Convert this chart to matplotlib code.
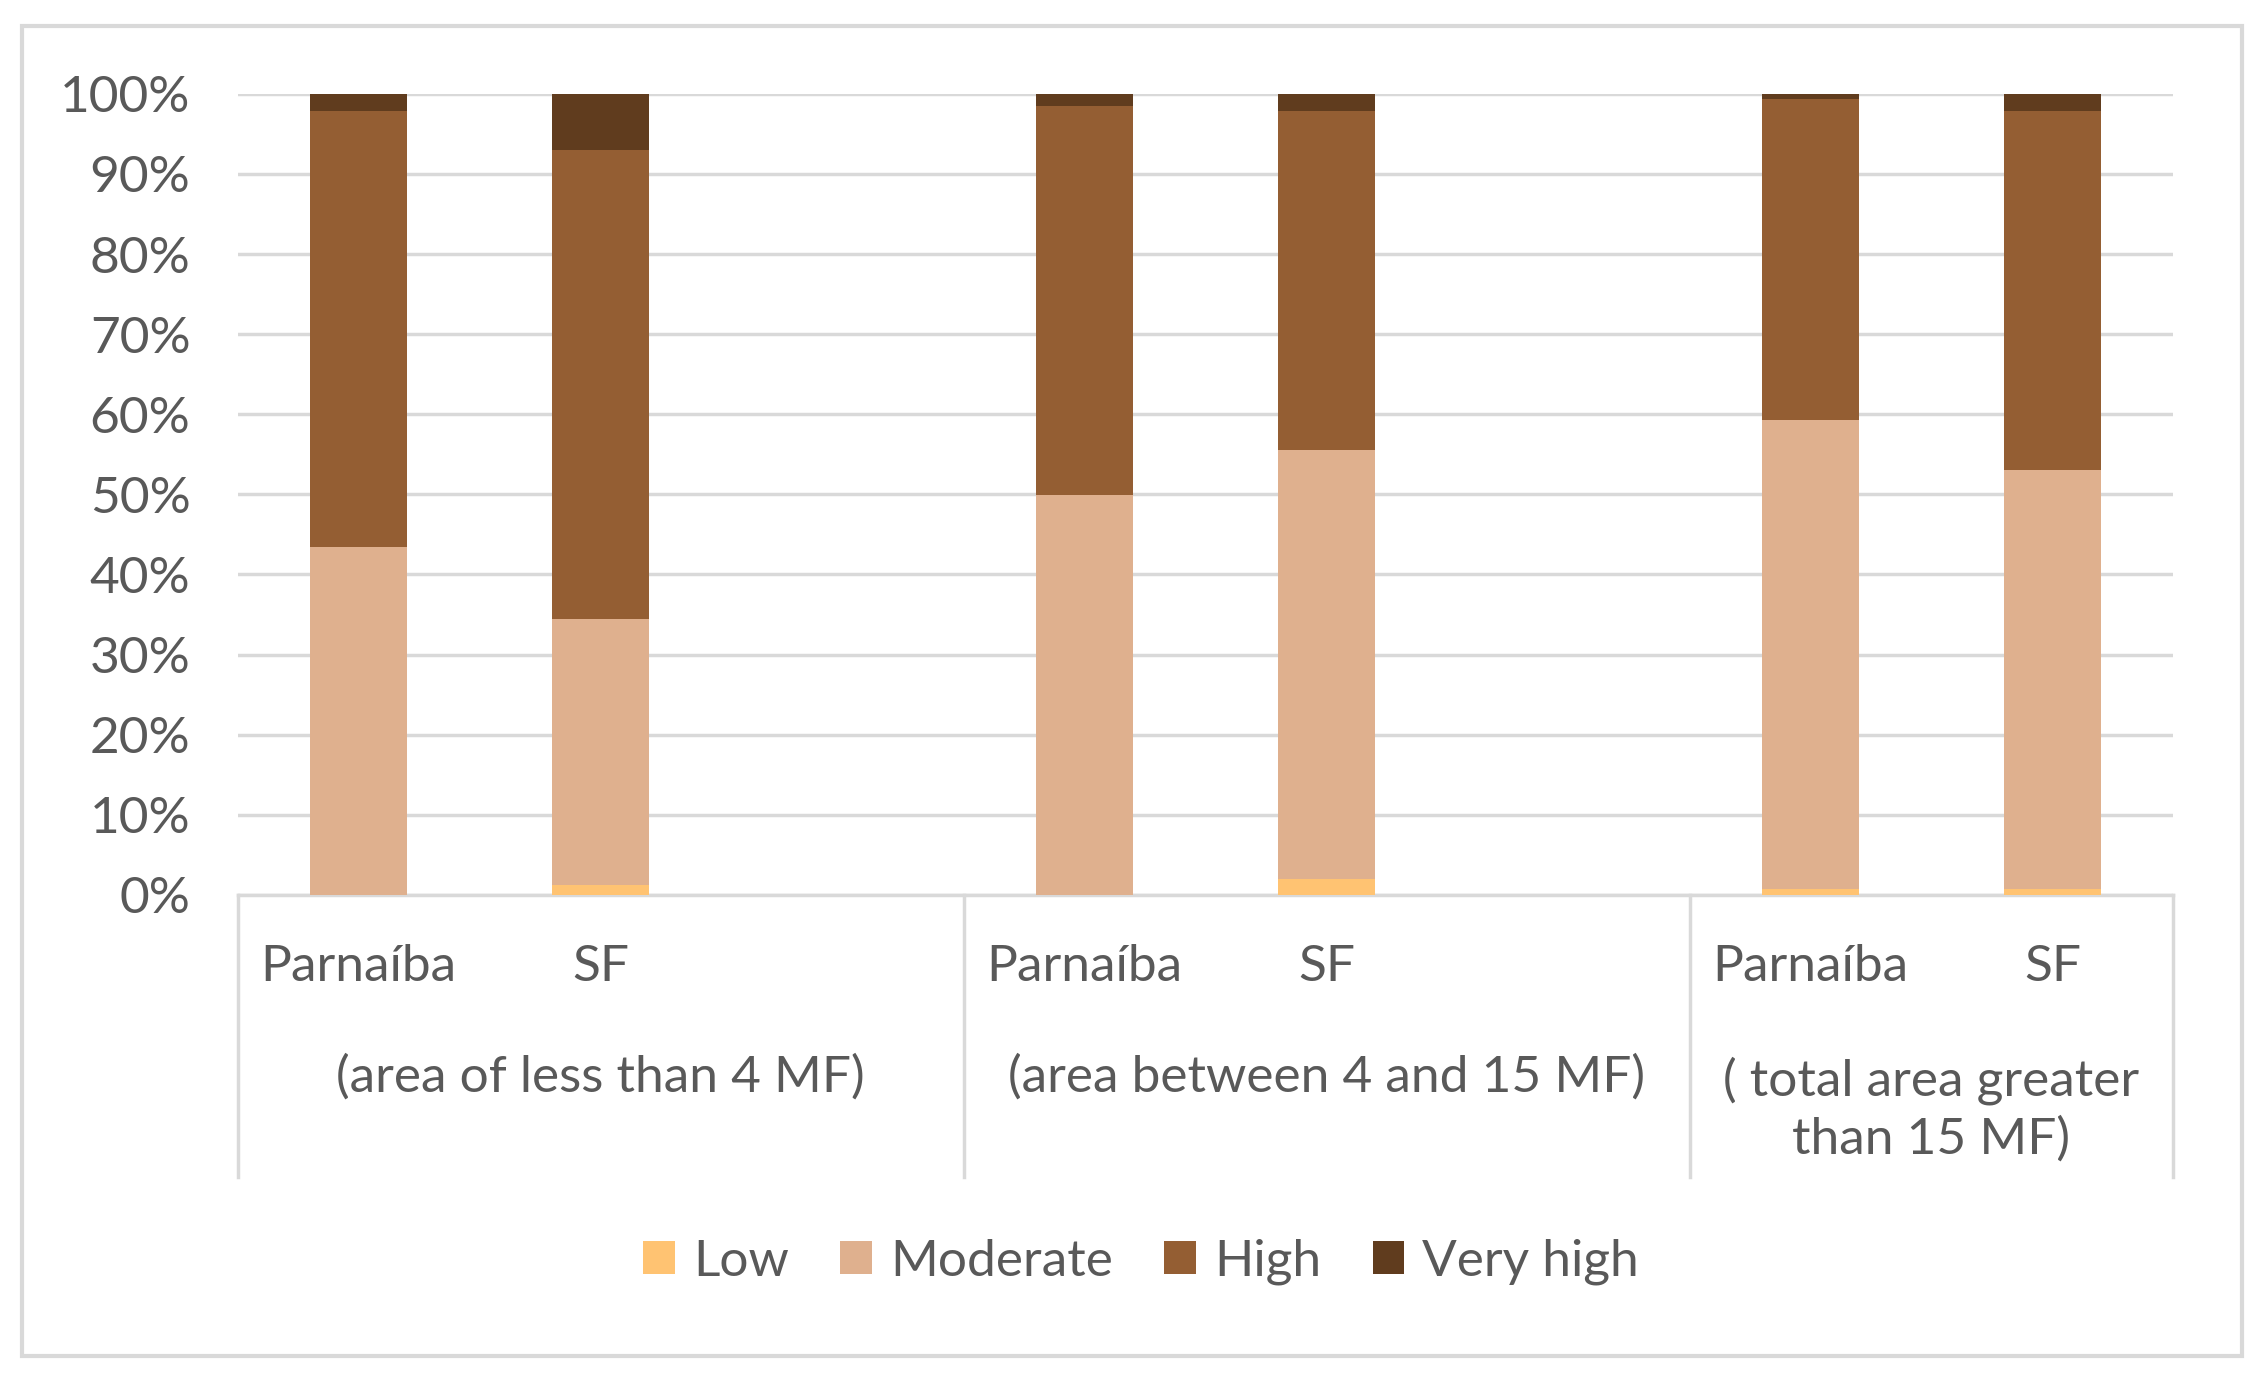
import matplotlib.pyplot as plt
from matplotlib.patches import Rectangle
from matplotlib.ticker import FuncFormatter
import numpy as np

# values (percent of each bar)
sub_labels = ["Parnaíba", "SF"]
group_labels = ["(area of less than 4 MF)", "(area between 4 and 15 MF)",
                "( total area greater\nthan 15 MF)"]
levels = ["Low", "Moderate", "High", "Very high"]

low = [0.0, 1.3, 0.0, 2.0, 0.8, 0.8]
moderate = [43.4, 33.1, 49.9, 53.5, 58.5, 52.2]
high = [54.4, 58.6, 48.6, 42.3, 40.1, 44.8]
very_high = [2.2, 7.0, 1.5, 2.2, 0.6, 2.2]

colors = ["#FFC372", "#DFB08E", "#945E33", "#603C1E"]
text_col = "#595959"
grid_col = "#D9D9D9"
fs = 37

plt.rcParams['font.family'] = ['Lato', 'DejaVu Sans']

fig = plt.figure(figsize=(22.64, 13.79), dpi=100)
ax = fig.add_axes([0.105, 0.351, 0.855, 0.581])

# 8 slots: P, SF, (gap), P, SF, (gap), P, SF
pos = np.array([0, 1, 3, 4, 6, 7])
series = [low, moderate, high, very_high]
bottom = np.zeros(len(pos))
for name, vals, c in zip(levels, series, colors):
    vals = np.array(vals)
    ax.bar(pos, vals, width=0.4, bottom=bottom, color=c, label=name, zorder=3)
    bottom += vals

ax.set_xlim(-0.5, 7.5)
ax.set_ylim(0, 100)
ax.set_yticks(np.arange(0, 101, 10))
ax.yaxis.set_major_formatter(FuncFormatter(lambda v, p: f"{int(v)}%"))
ax.tick_params(axis='y', length=0, pad=34, labelsize=fs, labelcolor=text_col)
ax.set_xticks([])
ax.grid(axis='y', color=grid_col, linewidth=2.5, zorder=0)
for s in ["left", "right", "top"]:
    ax.spines[s].set_visible(False)
ax.spines["bottom"].set_color(grid_col)
ax.spines["bottom"].set_linewidth(2.5)

# two-level category axis
trans = ax.get_xaxis_transform()
for i, p in enumerate(pos):
    ax.text(p, -0.09, sub_labels[i % 2], transform=trans, ha='center', va='center',
            fontsize=fs, color=text_col)
for x in [-0.5, 2.5, 5.5, 7.5]:
    ax.plot([x, x], [0, -0.352], transform=trans, color=grid_col, lw=2.5, clip_on=False)
group_x = [1.0, 4.0, 6.5]
group_y = [-0.227, -0.227, -0.268]
for gx, gy, g in zip(group_x, group_y, group_labels):
    ax.text(gx, gy, g, transform=trans, ha='center', va='center',
            fontsize=fs, color=text_col, linespacing=1.3)

fig.legend(loc='center', bbox_to_anchor=(0.504, 0.085), ncol=4, frameon=False,
           fontsize=fs, labelcolor=text_col, handlelength=0.62, handleheight=0.62,
           handletextpad=0.35, columnspacing=1.0)

fig.patches.append(Rectangle((0.0095, 0.017), 0.981, 0.964, transform=fig.transFigure,
                             fill=False, edgecolor=grid_col, linewidth=3))

fig.savefig("out.png", dpi=100, facecolor="white")
